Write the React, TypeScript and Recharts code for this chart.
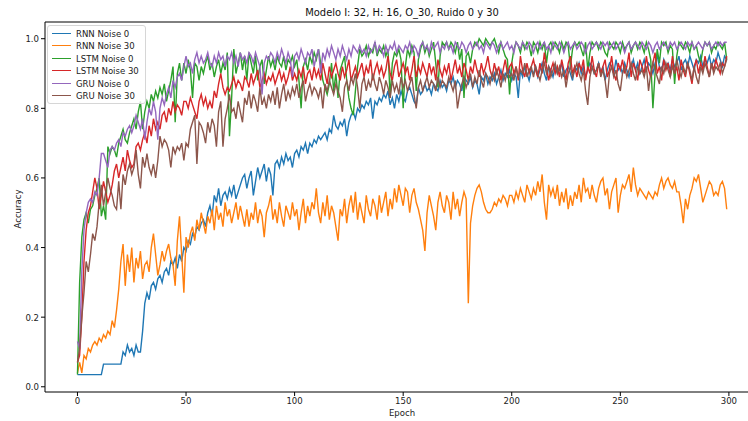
import {Line, LineChart, Legend, ReferenceLine, XAxis, YAxis} from 'recharts';

const rnnNoise0 = [
    0.035, 0.035, 0.035, 0.035, 0.035, 0.035, 0.035, 0.035, 0.035, 0.035,
    0.035, 0.035, 0.065, 0.065, 0.065, 0.065, 0.065, 0.065, 0.065, 0.065,
    0.065, 0.10, 0.09, 0.12, 0.10, 0.11, 0.09, 0.12, 0.10, 0.10,
    0.16, 0.24, 0.27, 0.25, 0.29, 0.30, 0.28, 0.31, 0.32, 0.30,
    0.33, 0.34, 0.32, 0.36, 0.35, 0.37, 0.34, 0.38, 0.36, 0.40,
    0.39, 0.42, 0.41, 0.44, 0.43, 0.46, 0.45, 0.47, 0.48, 0.46,
    0.50, 0.52, 0.49, 0.55, 0.53, 0.57, 0.52, 0.55, 0.56, 0.54,
    0.57, 0.55, 0.58, 0.54, 0.56, 0.58, 0.60, 0.61, 0.57, 0.60,
    0.62, 0.55, 0.59, 0.63, 0.60, 0.62, 0.64, 0.59, 0.63, 0.61,
    0.55, 0.64, 0.65, 0.63, 0.66, 0.64, 0.67, 0.65, 0.66, 0.63,
    0.67, 0.68, 0.66, 0.69, 0.68, 0.70, 0.67, 0.70, 0.69, 0.71,
    0.70, 0.72, 0.71, 0.72, 0.73, 0.71, 0.74, 0.73, 0.78, 0.75,
    0.74, 0.76, 0.75, 0.77, 0.72, 0.76, 0.78, 0.79, 0.77, 0.80,
    0.79, 0.81, 0.80, 0.82, 0.81, 0.83, 0.77, 0.82, 0.81, 0.83,
    0.82, 0.84, 0.83, 0.85, 0.81, 0.83, 0.80, 0.84, 0.82, 0.85,
    0.83, 0.82, 0.85, 0.86, 0.84, 0.82, 0.81, 0.86, 0.84, 0.85,
    0.87, 0.85, 0.86, 0.84, 0.87, 0.86, 0.85, 0.88, 0.86, 0.87,
    0.85, 0.88, 0.87, 0.89, 0.86, 0.88, 0.87, 0.85, 0.89, 0.88,
    0.87, 0.89, 0.86, 0.88, 0.87, 0.84, 0.89, 0.88, 0.90, 0.87,
    0.89, 0.88, 0.90, 0.87, 0.89, 0.91, 0.88, 0.90, 0.89, 0.91,
    0.88, 0.90, 0.89, 0.83, 0.91, 0.89, 0.92, 0.90, 0.88, 0.91,
    0.90, 0.92, 0.89, 0.91, 0.93, 0.90, 0.88, 0.92, 0.91, 0.89,
    0.92, 0.90, 0.91, 0.93, 0.89, 0.91, 0.92, 0.90, 0.88, 0.92,
    0.91, 0.93, 0.90, 0.92, 0.89, 0.91, 0.93, 0.92, 0.90, 0.91,
    0.93, 0.90, 0.92, 0.88, 0.91, 0.93, 0.92, 0.90, 0.94, 0.91,
    0.92, 0.90, 0.93, 0.91, 0.89, 0.92, 0.94, 0.91, 0.93, 0.90,
    0.92, 0.94, 0.91, 0.93, 0.92, 0.90, 0.93, 0.95, 0.92, 0.91,
    0.94, 0.92, 0.93, 0.91, 0.94, 0.92, 0.93, 0.95, 0.91, 0.93,
    0.94, 0.92, 0.95, 0.93, 0.91, 0.94, 0.93, 0.95, 0.92, 0.94,
    0.93, 0.95, 0.92, 0.94, 0.93, 0.96, 0.94, 0.92, 0.95, 0.94,
];

const rnnNoise30 = [
    0.04, 0.07, 0.04, 0.09, 0.08, 0.11, 0.10, 0.12, 0.13, 0.12,
    0.14, 0.13, 0.15, 0.14, 0.16, 0.15, 0.19, 0.17, 0.22, 0.28,
    0.36, 0.41, 0.29, 0.38, 0.33, 0.40, 0.30, 0.37, 0.34, 0.39,
    0.31, 0.35, 0.36, 0.33, 0.40, 0.44, 0.38, 0.32, 0.35, 0.39,
    0.36, 0.39, 0.41, 0.37, 0.35, 0.29, 0.42, 0.49, 0.38, 0.27,
    0.43, 0.40, 0.44, 0.46, 0.42, 0.48, 0.45, 0.50, 0.47, 0.44,
    0.49, 0.47, 0.51, 0.45, 0.52, 0.48, 0.50, 0.46, 0.53, 0.49,
    0.51, 0.47, 0.50, 0.53, 0.48, 0.52, 0.49, 0.46, 0.51, 0.46,
    0.50, 0.48, 0.53, 0.47, 0.51, 0.49, 0.43, 0.50, 0.52, 0.55,
    0.48, 0.51, 0.47, 0.53, 0.49, 0.46, 0.52, 0.50, 0.48, 0.53,
    0.49, 0.51, 0.45, 0.50, 0.54, 0.47, 0.52, 0.49, 0.53, 0.51,
    0.57, 0.50, 0.47, 0.53, 0.49, 0.55, 0.48, 0.52, 0.50, 0.46,
    0.42, 0.51, 0.49, 0.54, 0.47, 0.52, 0.55, 0.50, 0.56, 0.48,
    0.53, 0.50, 0.47, 0.55, 0.51, 0.49, 0.54, 0.52, 0.48, 0.55,
    0.50, 0.53, 0.56, 0.49, 0.54, 0.51, 0.57, 0.53, 0.58, 0.55,
    0.52, 0.57, 0.56, 0.50, 0.55, 0.57, 0.53, 0.51, 0.48, 0.45,
    0.39, 0.50, 0.55, 0.52, 0.49, 0.45, 0.53, 0.56, 0.52, 0.50,
    0.55, 0.53, 0.48, 0.56, 0.51, 0.54, 0.49, 0.53, 0.56, 0.54,
    0.24, 0.47, 0.52, 0.55, 0.57, 0.58, 0.56, 0.53, 0.51, 0.50,
    0.50, 0.51, 0.53, 0.52, 0.54, 0.53, 0.55, 0.54, 0.52, 0.55,
    0.55, 0.53, 0.56, 0.54, 0.57, 0.55, 0.53, 0.58, 0.56, 0.54,
    0.57, 0.55, 0.59, 0.56, 0.61, 0.53, 0.48, 0.58, 0.55, 0.57,
    0.54, 0.58, 0.52, 0.56, 0.53, 0.57, 0.51, 0.55, 0.52, 0.56,
    0.54, 0.58, 0.53, 0.60, 0.56, 0.57, 0.54, 0.58, 0.55, 0.53,
    0.57, 0.59, 0.60, 0.55, 0.57, 0.51, 0.56, 0.58, 0.60, 0.50,
    0.55, 0.58, 0.57, 0.59, 0.61, 0.56, 0.63, 0.58, 0.55, 0.57,
    0.56, 0.55, 0.54, 0.56, 0.55, 0.54, 0.56, 0.55, 0.58, 0.60,
    0.57, 0.59, 0.60, 0.58, 0.57, 0.59, 0.56, 0.56, 0.52, 0.47,
    0.54, 0.51, 0.55, 0.57, 0.60, 0.59, 0.61, 0.57, 0.53, 0.55,
    0.57, 0.59, 0.58, 0.55, 0.56, 0.55, 0.58, 0.59, 0.57, 0.51,
];

const lstmNoise0 = [
    0.035, 0.30, 0.43, 0.48, 0.50, 0.47, 0.51, 0.52, 0.55, 0.57,
    0.60, 0.49, 0.52, 0.48, 0.69, 0.67, 0.69, 0.68, 0.66, 0.70,
    0.72, 0.74, 0.71, 0.70, 0.73, 0.75, 0.77, 0.74, 0.79, 0.82,
    0.74, 0.79, 0.82, 0.80, 0.84, 0.82, 0.85, 0.83, 0.86, 0.84,
    0.87, 0.82, 0.85, 0.88, 0.92, 0.76, 0.90, 0.93, 0.88, 0.93,
    0.90, 0.94, 0.91, 0.83, 0.93, 0.92, 0.88, 0.92, 0.90, 0.93,
    0.95, 0.91, 0.93, 0.89, 0.92, 0.94, 0.90, 0.93, 0.91, 0.96,
    0.72, 0.83, 0.97, 0.90, 0.93, 0.96, 0.91, 0.95, 0.88, 0.96,
    0.93, 0.90, 0.95, 0.88, 0.92, 0.94, 0.87, 0.91, 0.95, 0.92,
    0.94, 0.91, 0.95, 0.93, 0.92, 0.95, 0.91, 0.94, 0.93, 0.95,
    0.92, 0.94, 0.88, 0.80, 0.92, 0.94, 0.91, 0.95, 0.93, 0.96,
    0.94, 0.97, 0.93, 0.88, 0.86, 0.84, 0.87, 0.93, 0.85, 0.90,
    0.83, 0.91, 0.93, 0.95, 0.88, 0.83, 0.80, 0.78, 0.85, 0.92,
    0.97, 0.95, 0.96, 0.98, 0.95, 0.97, 0.96, 0.99, 0.95, 0.97,
    0.96, 0.98, 0.95, 0.97, 0.83, 0.93, 0.96, 0.95, 0.97, 0.94,
    0.80, 0.92, 0.97, 0.95, 0.98, 0.96, 0.85, 0.94, 0.97, 0.99,
    0.96, 0.98, 0.95, 0.97, 0.99, 0.93, 0.86, 0.95, 0.99, 0.98,
    0.99, 0.97, 0.99, 0.98, 0.96, 0.99, 0.94, 0.97, 0.83, 0.95,
    0.96, 0.93, 0.97, 0.99, 0.98, 1.00, 0.99, 0.98, 1.00, 0.99,
    0.98, 0.99, 1.00, 0.98, 0.96, 0.99, 0.97, 0.95, 0.94, 0.84,
    0.93, 0.97, 0.99, 0.98, 0.96, 0.99, 0.97, 0.99, 0.98, 0.95,
    0.99, 0.98, 0.96, 0.99, 0.97, 0.99, 0.93, 0.98, 0.99, 0.97,
    0.99, 0.98, 0.96, 0.99, 0.97, 0.99, 0.98, 0.92, 0.97, 0.99,
    0.98, 0.99, 0.97, 0.95, 0.99, 0.91, 0.96, 0.99, 0.98, 0.99,
    0.97, 0.99, 0.98, 0.96, 0.95, 0.99, 0.98, 0.97, 0.99, 0.98,
    0.96, 0.99, 0.97, 0.98, 0.99, 0.96, 0.98, 0.99, 0.97, 0.99,
    0.98, 0.96, 0.99, 0.97, 0.94, 0.80, 0.90, 0.97, 0.93, 0.99,
    0.98, 0.99, 0.96, 0.98, 0.97, 0.87, 0.95, 0.99, 0.98, 0.97,
    0.99, 0.98, 0.96, 0.99, 0.97, 0.98, 0.95, 0.93, 0.97, 0.99,
    0.98, 0.99, 0.96, 0.98, 0.97, 0.99, 0.98, 0.97, 0.99, 0.94,
];

const lstmNoise30 = [
    0.07, 0.09, 0.20, 0.36, 0.45, 0.50, 0.52, 0.56, 0.60, 0.57,
    0.51, 0.55, 0.59, 0.56, 0.53, 0.55, 0.58, 0.62, 0.64, 0.60,
    0.63, 0.66, 0.62, 0.68, 0.65, 0.63, 0.64, 0.69, 0.70, 0.68,
    0.71, 0.73, 0.70, 0.75, 0.72, 0.77, 0.74, 0.76, 0.74, 0.78,
    0.79, 0.76, 0.80, 0.78, 0.82, 0.79, 0.81, 0.80, 0.78, 0.82,
    0.82, 0.80, 0.83, 0.81, 0.79, 0.77, 0.82, 0.84, 0.81, 0.83,
    0.80, 0.82, 0.80, 0.85, 0.83, 0.87, 0.90, 0.86, 0.84, 0.86,
    0.85, 0.87, 0.89, 0.86, 0.88, 0.87, 0.85, 0.89, 0.88, 0.86,
    0.90, 0.87, 0.89, 0.91, 0.86, 0.88, 0.90, 0.87, 0.89, 0.88,
    0.90, 0.87, 0.89, 0.91, 0.88, 0.90, 0.87, 0.89, 0.92, 0.88,
    0.90, 0.88, 0.91, 0.89, 0.92, 0.87, 0.90, 0.91, 0.88, 0.92,
    0.89, 0.91, 0.88, 0.93, 0.90, 0.87, 0.92, 0.89, 0.91, 0.93,
    0.90, 0.88, 0.92, 0.89, 0.91, 0.94, 0.88, 0.90, 0.92, 0.89,
    0.91, 0.93, 0.89, 0.92, 0.90, 0.94, 0.88, 0.91, 0.93, 0.90,
    0.92, 0.89, 0.91, 0.95, 0.90, 0.88, 0.92, 0.94, 0.89, 0.91,
    0.93, 0.90, 0.92, 0.88, 0.91, 0.95, 0.89, 0.92, 0.90, 0.93,
    0.91, 0.89, 0.93, 0.90, 0.92, 0.88, 0.94, 0.91, 0.89, 0.92,
    0.90, 0.93, 0.88, 0.91, 0.94, 0.90, 0.92, 0.89, 0.93, 0.91,
    0.88, 0.92, 0.90, 0.94, 0.91, 0.89, 0.93, 0.90, 0.92, 0.95,
    0.91, 0.89, 0.93, 0.90, 0.92, 0.88, 0.91, 0.94, 0.90, 0.92,
    0.93, 0.90, 0.92, 0.88, 0.95, 0.91, 0.89, 0.93, 0.90, 0.92,
    0.94, 0.91, 0.89, 0.93, 0.90, 0.96, 0.92, 0.88, 0.91, 0.93,
    0.90, 0.92, 0.89, 0.94, 0.91, 0.88, 0.93, 0.95, 0.90, 0.92,
    0.89, 0.93, 0.91, 0.94, 0.88, 0.92, 0.90, 0.95, 0.91, 0.89,
    0.93, 0.90, 0.92, 0.94, 0.89, 0.91, 0.95, 0.90, 0.88, 0.93,
    0.91, 0.94, 0.90, 0.92, 0.96, 0.89, 0.93, 0.91, 0.88, 0.94,
    0.92, 0.90, 0.95, 0.91, 0.89, 0.93, 0.96, 0.90, 0.92, 0.88,
    0.94, 0.91, 0.93, 0.89, 0.95, 0.90, 0.92, 0.88, 0.94, 0.91,
    0.89, 0.93, 0.90, 0.87, 0.92, 0.94, 0.90, 0.93, 0.91, 0.95,
    0.92, 0.89, 0.93, 0.91, 0.94, 0.92, 0.90, 0.93, 0.92, 0.95,
];

const gruNoise0 = [
    0.13, 0.11, 0.33, 0.45, 0.50, 0.53, 0.54, 0.53, 0.56, 0.55,
    0.60, 0.67, 0.67, 0.65, 0.63, 0.68, 0.69, 0.68, 0.70, 0.71,
    0.69, 0.73, 0.72, 0.74, 0.75, 0.73, 0.75, 0.78, 0.76, 0.74,
    0.77, 0.71, 0.76, 0.80, 0.78, 0.82, 0.79, 0.71, 0.80, 0.83,
    0.81, 0.84, 0.86, 0.83, 0.88, 0.86, 0.89, 0.90, 0.88, 0.92,
    0.95, 0.92, 0.93, 0.90, 0.94, 0.96, 0.93, 0.95, 0.93, 0.94,
    0.96, 0.93, 0.92, 0.95, 0.93, 0.96, 0.94, 0.95, 0.92, 0.95,
    0.94, 0.96, 0.93, 0.95, 0.92, 0.96, 0.94, 0.95, 0.93, 0.96,
    0.95, 0.93, 0.96, 0.94, 0.92, 0.84, 0.93, 0.95, 0.94, 0.96,
    0.95, 0.93, 0.96, 0.94, 0.97, 0.95, 0.93, 0.96, 0.94, 0.89,
    0.95, 0.96, 0.94, 0.97, 0.95, 0.93, 0.96, 0.95, 0.97, 0.92,
    0.95, 0.97, 0.90, 0.96, 0.94, 0.97, 0.95, 0.98, 0.96, 0.94,
    0.97, 0.95, 0.98, 0.96, 0.94, 0.97, 0.95, 0.98, 0.97, 0.96,
    0.98, 0.96, 0.97, 0.95, 0.98, 0.96, 0.97, 0.99, 0.96, 0.98,
    0.97, 0.95, 0.98, 0.96, 0.98, 0.97, 0.99, 0.96, 0.98, 0.97,
    0.96, 0.98, 0.97, 0.99, 0.96, 0.98, 0.97, 0.95, 0.98, 0.99,
    0.97, 0.98, 0.96, 0.99, 0.97, 0.98, 0.99, 0.96, 0.98, 0.97,
    0.99, 0.97, 0.98, 0.96, 0.99, 0.98, 0.97, 0.99, 0.98, 0.96,
    0.98, 0.99, 0.97, 0.98, 0.99, 0.97, 0.98, 0.96, 0.99, 0.98,
    0.97, 0.99, 0.98, 0.96, 0.98, 0.99, 0.97, 0.98, 0.99, 0.97,
    0.98, 0.96, 0.99, 0.98, 0.97, 0.99, 0.98, 0.97, 0.99, 0.98,
    0.96, 0.98, 0.99, 0.97, 0.98, 0.99, 0.97, 0.98, 0.96, 0.99,
    0.98, 0.97, 0.99, 0.98, 0.96, 0.98, 0.99, 0.97, 0.98, 0.99,
    0.97, 0.98, 0.99, 0.98, 0.96, 0.98, 0.99, 0.97, 0.98, 0.99,
    0.98, 0.97, 0.99, 0.98, 0.99, 0.97, 0.98, 0.99, 0.97, 0.98,
    0.99, 0.98, 0.96, 0.98, 0.99, 0.97, 0.98, 0.99, 0.98, 0.97,
    0.99, 0.98, 0.97, 0.99, 0.98, 0.96, 0.98, 0.99, 0.97, 0.98,
    0.99, 0.98, 0.97, 0.99, 0.98, 0.99, 0.97, 0.98, 0.99, 0.98,
    0.97, 0.99, 0.98, 0.99, 0.97, 0.98, 0.99, 0.98, 0.97, 0.99,
    0.98, 0.99, 0.97, 0.98, 0.99, 0.98, 0.99, 0.98, 0.99, 0.99,
];

const gruNoise30 = [
    0.07, 0.11, 0.20, 0.27, 0.36, 0.33, 0.38, 0.44, 0.42, 0.46,
    0.53, 0.58, 0.52, 0.56, 0.60, 0.57, 0.55, 0.52, 0.51, 0.59,
    0.51, 0.61, 0.58, 0.62, 0.64, 0.61, 0.63, 0.68, 0.61, 0.57,
    0.66, 0.63, 0.67, 0.63, 0.61, 0.64, 0.60, 0.65, 0.72, 0.69,
    0.71, 0.70, 0.68, 0.63, 0.69, 0.67, 0.69, 0.68, 0.70, 0.65,
    0.70, 0.69, 0.74, 0.76, 0.78, 0.64, 0.76, 0.75, 0.73, 0.70,
    0.76, 0.73, 0.77, 0.75, 0.69, 0.79, 0.82, 0.69, 0.77, 0.80,
    0.84, 0.79, 0.80, 0.77, 0.82, 0.79, 0.76, 0.83, 0.81, 0.85,
    0.80, 0.84, 0.82, 0.79, 0.86, 0.81, 0.83, 0.80, 0.84, 0.82,
    0.85, 0.81, 0.86, 0.80, 0.84, 0.87, 0.82, 0.85, 0.83, 0.86,
    0.84, 0.87, 0.83, 0.86, 0.88, 0.82, 0.85, 0.87, 0.84, 0.86,
    0.85, 0.83, 0.86, 0.80, 0.87, 0.85, 0.88, 0.86, 0.84, 0.87,
    0.85, 0.83, 0.79, 0.86, 0.88, 0.85, 0.89, 0.87, 0.90, 0.86,
    0.80, 0.87, 0.89, 0.85, 0.88, 0.86, 0.90, 0.87, 0.85, 0.89,
    0.87, 0.84, 0.88, 0.86, 0.83, 0.88, 0.85, 0.87, 0.84, 0.89,
    0.86, 0.88, 0.85, 0.87, 0.89, 0.84, 0.80, 0.86, 0.88, 0.85,
    0.87, 0.89, 0.86, 0.88, 0.87, 0.85, 0.89, 0.86, 0.88, 0.87,
    0.86, 0.89, 0.87, 0.85, 0.88, 0.80, 0.84, 0.87, 0.89, 0.86,
    0.88, 0.90, 0.86, 0.89, 0.87, 0.91, 0.88, 0.86, 0.90, 0.89,
    0.87, 0.90, 0.88, 0.91, 0.89, 0.86, 0.90, 0.88, 0.91, 0.89,
    0.90, 0.88, 0.92, 0.89, 0.91, 0.90, 0.93, 0.89, 0.91, 0.92,
    0.89, 0.92, 0.90, 0.88, 0.91, 0.93, 0.90, 0.92, 0.89, 0.91,
    0.93, 0.90, 0.92, 0.89, 0.91, 0.86, 0.90, 0.92, 0.89, 0.91,
    0.93, 0.90, 0.88, 0.91, 0.85, 0.81, 0.89, 0.92, 0.90, 0.91,
    0.93, 0.89, 0.91, 0.88, 0.83, 0.90, 0.92, 0.89, 0.91, 0.87,
    0.85, 0.90, 0.92, 0.89, 0.91, 0.93, 0.90, 0.88, 0.92, 0.90,
    0.91, 0.89, 0.92, 0.85, 0.90, 0.93, 0.91, 0.89, 0.87, 0.92,
    0.90, 0.93, 0.91, 0.89, 0.92, 0.90, 0.94, 0.91, 0.89, 0.92,
    0.90, 0.93, 0.91, 0.88, 0.92, 0.89, 0.87, 0.92, 0.90, 0.93,
    0.91, 0.89, 0.93, 0.90, 0.92, 0.91, 0.93, 0.90, 0.92, 0.94,
];

const series = [
    {key: 'rnn0', name: 'RNN Noise 0', color: '#1f77b4', values: rnnNoise0},
    {key: 'rnn30', name: 'RNN Noise 30', color: '#ff7f0e', values: rnnNoise30},
    {key: 'lstm0', name: 'LSTM Noise 0', color: '#2ca02c', values: lstmNoise0},
    {key: 'lstm30', name: 'LSTM Noise 30', color: '#d62728', values: lstmNoise30},
    {key: 'gru0', name: 'GRU Noise 0', color: '#9467bd', values: gruNoise0},
    {key: 'gru30', name: 'GRU Noise 30', color: '#8c564b', values: gruNoise30},
];

const xTicks = [0, 50, 100, 150, 200, 250, 300];
const yTicks = [0, 0.2, 0.4, 0.6, 0.8, 1.0];

const FONT = '"Liberation Sans Narrow", "DejaVu Sans Condensed", sans-serif';

const chartData = rnnNoise0.map((_, epoch) => {
    const row: Record<string, number> = {epoch};
    series.forEach(s => {
        row[s.key] = s.values[epoch];
    });
    return row;
});

const LegendBox = () => (
    <div style={{
        border: '1px solid #d6d6d6',
        borderRadius: 3,
        background: 'rgba(255,255,255,0.8)',
        padding: '1px 6px 1px 4px',
        fontFamily: FONT,
        fontSize: 9.5,
        color: '#222',
    }}>
        {series.map(s => (
            <div key={s.key} style={{display: 'flex', alignItems: 'center', height: 12.5}}>
                <span style={{display: 'inline-block', width: 19, height: 0, borderTop: `1.5px solid ${s.color}`, marginRight: 5}}/>
                <span>{s.name}</span>
            </div>
        ))}
    </div>
);

const App = () => {
    return (
        <div style={{position: 'absolute', left: 0, top: 0, width: 748, height: 421, background: '#fff', overflow: 'hidden'}}>
            <div style={{position: 'absolute', left: 45, width: 714, top: 6, textAlign: 'center', fontFamily: FONT, fontSize: 11, color: '#111'}}>
                Modelo I: 32, H: 16, O_30, Ruido 0 y 30
            </div>
            <div style={{position: 'absolute', left: 45, width: 714, top: 407, textAlign: 'center', fontFamily: FONT, fontSize: 9.5, color: '#222'}}>
                Epoch
            </div>
            <div style={{position: 'absolute', left: 17, top: 209, transform: 'translate(-50%, -50%) rotate(-90deg)', fontFamily: FONT, fontSize: 9.5, color: '#222', whiteSpace: 'nowrap'}}>
                Accuracy
            </div>
            <LineChart
                width={748}
                height={421}
                data={chartData}
                margin={{top: 22, right: 0, bottom: 0, left: 0}}
            >
                <XAxis
                    dataKey="epoch"
                    type="number"
                    domain={[-14.95, 308.8]}
                    allowDataOverflow
                    ticks={xTicks}
                    height={29}
                    tickSize={4}
                    tickMargin={1}
                    stroke="#000"
                    tick={{fontSize: 9.5, fontFamily: FONT, fill: '#222'}}
                />
                <YAxis
                    type="number"
                    domain={[-0.015, 1.048]}
                    allowDataOverflow
                    ticks={yTicks}
                    width={45}
                    tickSize={4}
                    tickMargin={2}
                    stroke="#000"
                    tickFormatter={(v: number) => v.toFixed(1)}
                    tick={{fontSize: 9.5, fontFamily: FONT, fill: '#222'}}
                />
                <ReferenceLine y={1.048} stroke="#000" strokeWidth={1}/>
                <Legend
                    layout="vertical"
                    align="center"
                    verticalAlign="middle"
                    wrapperStyle={{left: 47, top: 25, width: 'auto'}}
                    content={() => <LegendBox/>}
                />
                {series.map(s => (
                    <Line
                        key={s.key}
                        type="linear"
                        dataKey={s.key}
                        name={s.name}
                        stroke={s.color}
                        strokeWidth={1.4}
                        dot={false}
                        activeDot={false}
                        isAnimationActive={false}
                    />
                ))}
            </LineChart>
        </div>
    );
};

export default App;
